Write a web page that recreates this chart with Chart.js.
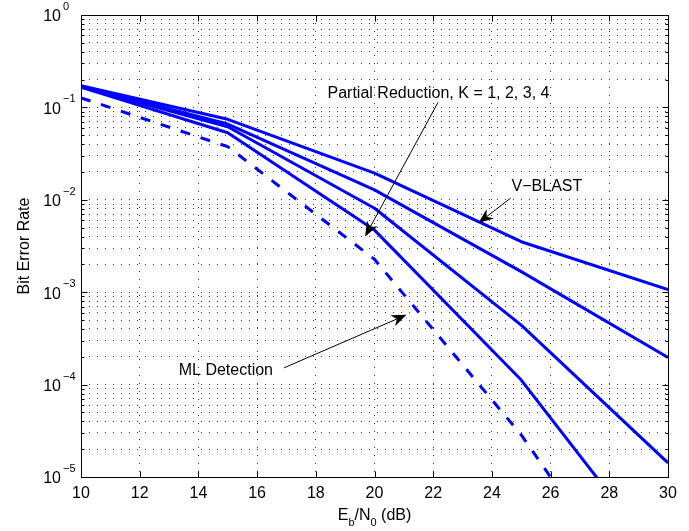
<!DOCTYPE html>
<html>
<head>
<meta charset="utf-8">
<script src="https://cdn.jsdelivr.net/npm/chart.js@4.4.1/dist/chart.umd.min.js"></script>
<style>
  html, body { margin: 0; padding: 0; background: #fff; }
</style>
</head>
<body>
<canvas id="ber" width="689" height="531"></canvas>
<script>
// Eb/N0 sample points (dB) and bit error rates per detector
const snrDb = [10, 15, 20, 25, 30];
const berVblast = [0.172, 0.0743, 0.0194, 0.00352, 0.00107];
const berK1 = [0.170, 0.066, 0.0128, 0.00167, 0.000197];
const berK2 = [0.168, 0.0618, 0.0081, 0.00044, 0.0000142];
const berK3 = [0.165, 0.0532, 0.0047, 0.000112, 0.000001];
const berMl = [0.127, 0.0376, 0.00227, 0.0000285, 0.00000015];

// axis ticks
const xTicks = [10, 12, 14, 16, 18, 20, 22, 24, 26, 28, 30];
const yExponents = [0, -1, -2, -3, -4, -5];

// every log minor position between 1e-5 and 1
const yGrid = [];
for (let e = -5; e < 0; e++) {
  for (let m = 1; m <= 9; m++) yGrid.push(m * Math.pow(10, e));
}
yGrid.push(1);

// annotation text + arrows, in data units
const notes = [
  { text: 'Partial Reduction, K = 1, 2, 3, 4', at: [22.18, 0.14], align: 'center',
    from: [22.16, 0.1127], to: [19.68, 0.00401] },
  { text: 'V\u2212BLAST', at: [24.67, 0.01376], align: 'left',
    from: [24.64, 0.01045], to: [23.54, 0.0056] },
  { text: 'ML Detection', at: [13.33, 1.43e-4], align: 'left',
    from: [16.92, 1.52e-4], to: [21.09, 5.69e-4] }
];

const FONT = '"Liberation Sans", Arial, Helvetica, sans-serif';

function toPoints(ys) {
  return snrDb.map((x, i) => ({ x, y: ys[i] }));
}

function curve(label, ys, dashed) {
  return {
    label,
    data: toPoints(ys),
    borderColor: '#0000ff',
    borderWidth: 3,
    borderDash: dashed ? [10, 11] : [],
    borderJoinStyle: 'round',
    pointRadius: 0,
    fill: false,
    tension: 0
  };
}

function drawArrow(ctx, x1, y1, x2, y2) {
  const ang = Math.atan2(y2 - y1, x2 - x1);
  const L = 15, W = 6;
  const cos = Math.cos(ang), sin = Math.sin(ang);
  const back = (d, w) => [x2 - d * cos - w * sin, y2 - d * sin + w * cos];
  ctx.beginPath();
  ctx.moveTo(x1, y1);
  const n = back(L * 0.7, 0);
  ctx.lineTo(n[0], n[1]);
  ctx.stroke();
  const l = back(L, W), r = back(L, -W);
  ctx.beginPath();
  ctx.moveTo(x2, y2);
  ctx.lineTo(l[0], l[1]);
  ctx.lineTo(n[0], n[1]);
  ctx.lineTo(r[0], r[1]);
  ctx.closePath();
  ctx.fill();
}

// box, inward ticks, tick labels, axis titles and annotations
const matlabAxes = {
  id: 'matlabAxes',
  afterDraw(chart) {
    const { ctx, chartArea: a, scales: { x, y } } = chart;
    const L = Math.round(a.left) + 0.5, R = Math.round(a.right) + 0.5;
    const T = Math.round(a.top) + 0.5, B = Math.round(a.bottom) + 0.5;
    ctx.save();
    ctx.strokeStyle = '#000';
    ctx.fillStyle = '#000';
    ctx.lineWidth = 1;
    ctx.strokeRect(L, T, R - L, B - T);

    ctx.beginPath();
    xTicks.forEach(v => {
      const px = Math.round(x.getPixelForValue(v)) + 0.5;
      ctx.moveTo(px, B); ctx.lineTo(px, B - 6);
      ctx.moveTo(px, T); ctx.lineTo(px, T + 6);
    });
    yGrid.forEach(v => {
      const py = Math.round(y.getPixelForValue(v)) + 0.5;
      const major = Math.abs(Math.log10(v) - Math.round(Math.log10(v))) < 1e-9;
      const len = major ? 6 : 3;
      ctx.moveTo(L, py); ctx.lineTo(L + len, py);
      ctx.moveTo(R, py); ctx.lineTo(R - len, py);
    });
    ctx.stroke();

    // x tick labels
    ctx.font = '16px ' + FONT;
    ctx.textAlign = 'center';
    ctx.textBaseline = 'middle';
    xTicks.forEach(v => ctx.fillText(String(v), x.getPixelForValue(v), a.bottom + 17));

    // y tick labels 10^e
    yExponents.forEach(e => {
      const py = y.getPixelForValue(Math.pow(10, e));
      ctx.font = '16px ' + FONT;
      ctx.textAlign = 'right';
      ctx.fillText('10', a.left - 20, py + 2);
      ctx.font = '11px ' + FONT;
      ctx.textAlign = 'left';
      ctx.fillText(e === 0 ? '0' : '\u2212' + (-e), a.left - 18, py - 8);
    });

    // x title Eb/N0 (dB)
    const parts = [
      ['E', 16, 0], ['b', 11, 7], ['/N', 16, 0], ['0', 11, 7], [' (dB)', 16, 0]
    ];
    let total = 0;
    parts.forEach(p => { ctx.font = p[1] + 'px ' + FONT; total += ctx.measureText(p[0]).width; });
    let cx = (a.left + a.right) / 2 - total / 2;
    ctx.textAlign = 'left';
    parts.forEach(p => {
      ctx.font = p[1] + 'px ' + FONT;
      ctx.fillText(p[0], cx, a.bottom + 39 + p[2]);
      cx += ctx.measureText(p[0]).width;
    });

    // y title
    ctx.save();
    ctx.translate(25, (a.top + a.bottom) / 2);
    ctx.rotate(-Math.PI / 2);
    ctx.font = '16px ' + FONT;
    ctx.textAlign = 'center';
    ctx.fillText('Bit Error Rate', 0, 0);
    ctx.restore();

    // annotations
    ctx.font = '16px ' + FONT;
    notes.forEach(n => {
      ctx.textAlign = n.align;
      ctx.fillText(n.text, x.getPixelForValue(n.at[0]), y.getPixelForValue(n.at[1]));
      drawArrow(ctx,
        x.getPixelForValue(n.from[0]), y.getPixelForValue(n.from[1]),
        x.getPixelForValue(n.to[0]), y.getPixelForValue(n.to[1]));
    });
    ctx.restore();
  }
};

const gridStyle = { color: '#333', lineWidth: 1, drawTicks: false, tickLength: 0 };

new Chart(document.getElementById('ber'), {
  type: 'line',
  data: {
    datasets: [
      curve('V-BLAST', berVblast, false),
      curve('Partial Reduction K=1', berK1, false),
      curve('Partial Reduction K=2', berK2, false),
      curve('Partial Reduction K=3', berK3, false),
      curve('ML Detection', berMl, true)
    ]
  },
  options: {
    responsive: false,
    devicePixelRatio: 1,
    animation: false,
    layout: { padding: { left: 81, right: 21, top: 15, bottom: 54 } },
    plugins: {
      legend: { display: false },
      tooltip: { enabled: false }
    },
    scales: {
      x: {
        type: 'linear',
        min: 10,
        max: 30,
        afterBuildTicks: s => { s.ticks = xTicks.map(v => ({ value: v })); },
        ticks: { display: false },
        grid: gridStyle,
        border: { display: false, dash: [1, 7] }
      },
      y: {
        type: 'logarithmic',
        min: 1e-5,
        max: 1,
        afterBuildTicks: s => { s.ticks = yGrid.map(v => ({ value: v })); },
        ticks: { display: false },
        grid: gridStyle,
        border: { display: false, dash: [1, 7] }
      }
    }
  },
  plugins: [matlabAxes]
});
</script>
</body>
</html>
